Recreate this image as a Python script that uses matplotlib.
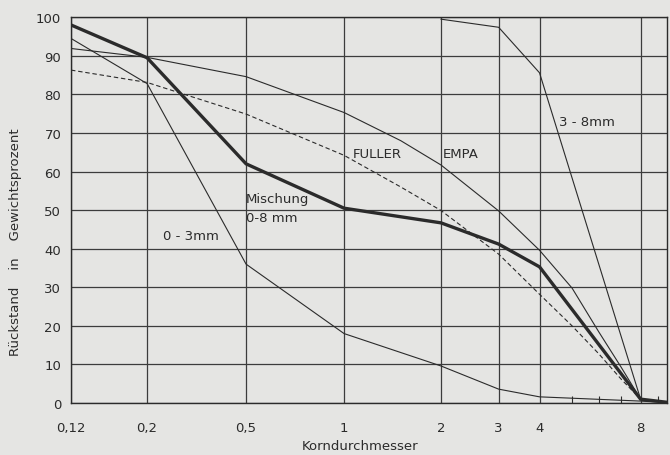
import numpy as np
import matplotlib.pyplot as plt

# sieve sizes (mm) and residues (%)
sizes = [0.12, 0.2, 0.5, 1, 2, 3, 4, 8, 10]
size_labels = ["0,12", "0,2", "0,5", "1", "2", "3", "4", "8"]
minor_sizes = [5, 6, 7, 9]

mischung = [98, 89.5, 62, 50.5, 46.7, 41.2, 35.3, 1, 0]
sand_0_3 = [94.5, 82.8, 36, 18, 9.6, 3.6, 1.6, 0.5, 0]

kies_sizes = [2, 3, 4, 8, 10]
kies_3_8 = [99.5, 97.4, 85.6, 1, 0]

curve_sizes = [0.12, 0.2, 0.5, 1, 1.5, 2, 3, 4, 5, 6, 7, 8, 10]
fuller = [86.3, 83.1, 74.9, 64.2, 56, 49.9, 38.6, 28.2, 20, 12.8, 6.2, 1, 0]
empa = [91.9, 89.6, 84.6, 75.3, 68, 61.7, 49.8, 39.6, 29.8, 18.5, 9.3, 1, 0]

# the printed sieve axis is not a plain log scale: piecewise in log2
axis_sizes = np.log2([0.12, 0.2, 0.5, 1, 2, 4, 8, 16])
axis_pos = [0, 0.772, 1.777, 2.772, 3.756, 4.756, 5.782, 6.807]


def forward(x):
    x = np.clip(np.asarray(x, dtype=float), 1e-3, None)
    return np.interp(np.log2(x), axis_sizes, axis_pos)


def inverse(p):
    return 2 ** np.interp(p, axis_pos, axis_sizes)


paper = "#e5e5e3"
ink = "#2b2b2b"
plt.rcParams["font.family"] = ["DejaVu Sans"]

fig = plt.figure(figsize=(6.7, 4.56), dpi=100, facecolor=paper)
ax = fig.add_axes([0.106, 0.114, 0.8895, 0.846])
ax.set_facecolor(paper)
ax.set_xscale("function", functions=(forward, inverse))

ax.plot(curve_sizes, empa, color=ink, lw=0.8)
ax.plot(curve_sizes, fuller, color=ink, lw=0.8, ls=(0, (4, 2.5)))
ax.plot(sizes, sand_0_3, color=ink, lw=0.8)
ax.plot(kies_sizes, kies_3_8, color=ink, lw=0.8)
ax.plot(sizes, mischung, color=ink, lw=2.4, solid_joinstyle="miter")

ax.set_xlim(0.12, 9.59)
ax.set_ylim(0, 100)
ax.set_xticks(sizes[:-1])
ax.set_xticklabels(size_labels)
ax.set_xticks(minor_sizes, minor=True)
ax.set_yticks(range(0, 101, 10))
ax.grid(True, which="major", color="#3c3c3c", lw=0.9)

ax.tick_params(axis="both", which="major", length=0, labelsize=9.5,
               labelcolor=ink)
ax.tick_params(axis="x", which="major", pad=13)
ax.tick_params(axis="y", which="major", pad=7)
ax.tick_params(axis="x", which="minor", direction="in", length=5,
               width=0.8, color=ink)
for s in ax.spines.values():
    s.set_color(ink)
    s.set_linewidth(1.0)

ax.text(0.473, 0.646, "FULLER", transform=ax.transAxes, fontsize=9.5,
        color=ink, va="center")
ax.text(0.624, 0.646, "EMPA", transform=ax.transAxes, fontsize=9.5,
        color=ink, va="center")
ax.text(0.819, 0.731, "3 - 8mm", transform=ax.transAxes, fontsize=9.5,
        color=ink, va="center")
ax.text(0.294, 0.531, "Mischung", transform=ax.transAxes, fontsize=9.5,
        color=ink, va="center")
ax.text(0.294, 0.480, "0-8 mm", transform=ax.transAxes, fontsize=9.5,
        color=ink, va="center")
ax.text(0.154, 0.433, "0 - 3mm", transform=ax.transAxes, fontsize=9.5,
        color=ink, va="center")

fig.text(16 / 670, 1 - 242 / 456, "Rückstand    in    Gewichtsprozent",
         rotation=90, ha="center", va="center", fontsize=9.5, color=ink)
fig.text(360 / 670, 1 - 447 / 456, "Korndurchmesser", ha="center",
         va="center", fontsize=9.5, color=ink)

fig.savefig("out.png", dpi=100, facecolor=paper)
